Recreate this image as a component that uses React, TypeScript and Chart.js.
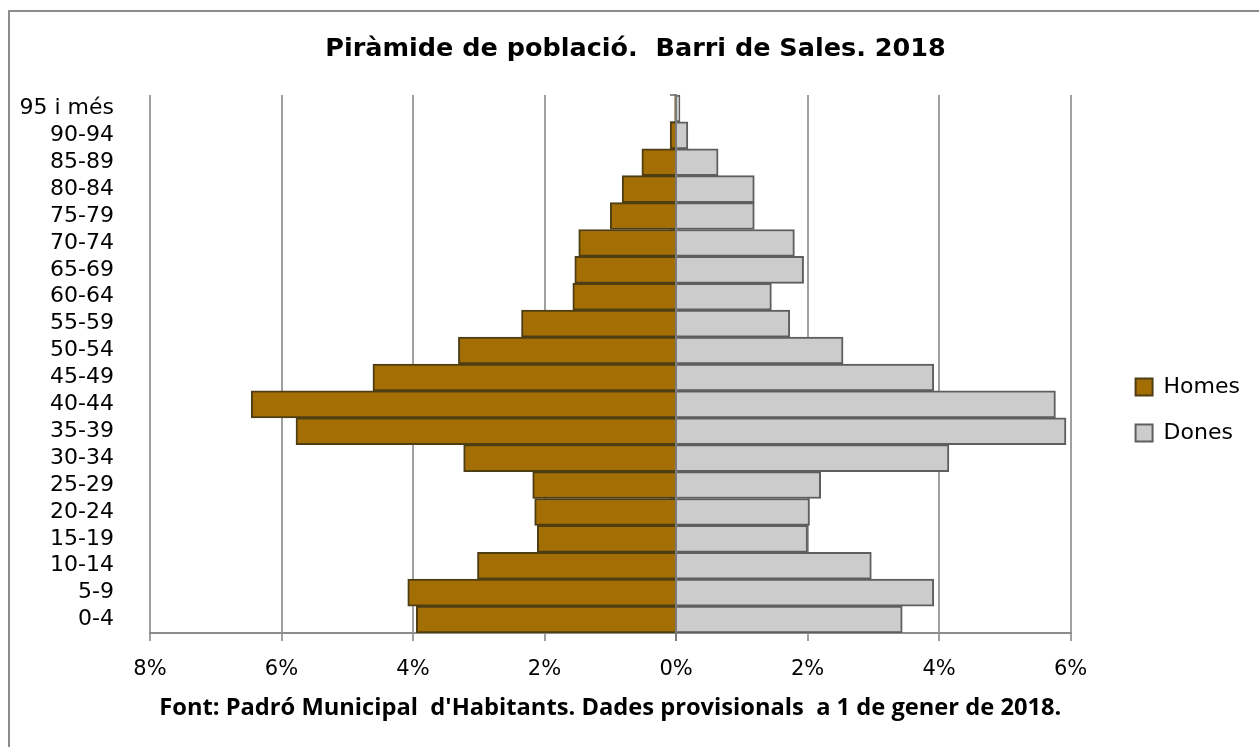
import React, { useEffect, useRef } from 'react';
import { Chart, registerables } from 'chart.js';

Chart.register(...registerables);

const categories = [
  '95 i més', '90-94', '85-89', '80-84', '75-79', '70-74', '65-69', '60-64', '55-59', '50-54',
  '45-49', '40-44', '35-39', '30-34', '25-29', '20-24', '15-19', '10-14', '5-9', '0-4',
];
const homesPct = [
  0.02, 0.09, 0.52, 0.82, 1.0, 1.48, 1.54, 1.57, 2.35, 3.31,
  4.61, 6.46, 5.78, 3.23, 2.18, 2.15, 2.11, 3.02, 4.08, 3.95,
];
const donesPct = [
  0.06, 0.18, 0.64, 1.19, 1.19, 1.8, 1.94, 1.45, 1.73, 2.54,
  3.92, 5.77, 5.93, 4.15, 2.2, 2.03, 2.0, 2.97, 3.92, 3.44,
];
const xMin = -8;
const xMax = 6;
const xStep = 2;
const titleText = 'Piràmide de població.  Barri de Sales. 2018';
const sourceText = "Font: Padró Municipal  d'Habitants. Dades provisionals  a 1 de gener de 2018.";

export default function App() {
  const ref = useRef<HTMLCanvasElement>(null);

  useEffect(() => {
    const canvas = ref.current;
    if (!canvas) return;
    Chart.defaults.font.family = 'DejaVu Sans';
    const chart = new Chart(canvas, {
      type: 'bar',
      data: {
        labels: categories,
        datasets: [
          {
            label: 'Homes',
            data: homesPct.map((v) => -v),
            backgroundColor: '#A36E04',
            borderColor: '#4f3e14',
            borderWidth: 2,
            barPercentage: 1,
            categoryPercentage: 1,
            xAxisID: 'x',
            yAxisID: 'y',
          },
          {
            label: 'Dones',
            data: donesPct,
            backgroundColor: '#CCCCCC',
            borderColor: '#5e5e5e',
            borderWidth: 2,
            barPercentage: 1,
            categoryPercentage: 1,
            xAxisID: 'x',
            yAxisID: 'y',
          },
        ],
      },
      options: {
        responsive: false,
        animation: false,
        indexAxis: 'y',
        layout: { padding: { left: 10, right: 10, top: 0, bottom: 0 } },
        plugins: {
          title: {
            display: true,
            text: titleText,
            color: '#000',
            font: { family: 'DejaVu Sans', size: 25.5, weight: 'bold' },
            padding: { top: 21, bottom: 30.4 },
          },
          legend: {
            position: 'right',
            labels: {
              color: '#000',
              font: { family: 'DejaVu Sans', size: 22 },
              boxWidth: 17,
              boxHeight: 17,
              padding: 24,
            },
          },
          tooltip: { enabled: false },
        },
        scales: {
          x: {
            type: 'linear',
            min: xMin,
            max: xMax,
            stacked: true,
            ticks: {
              stepSize: xStep,
              callback: (v: any) => Math.abs(Number(v)) + '%',
              color: '#000',
              font: { family: 'DejaVu Sans', size: 21 },
              padding: 16,
              maxRotation: 0,
            },
            grid: {
              color: (ctx: any) => (ctx.tick && ctx.tick.value === 0 ? '#7a7a7a' : '#a0a0a0'),
              lineWidth: 2,
              tickLength: 8,
            },
            border: { display: true, color: '#8c8c8c', width: 2 },
            title: {
              display: true,
              text: sourceText,
              color: '#000',
              font: { family: 'Open Sans', size: 23.7, weight: 'bold' },
              padding: { top: 0, bottom: 84.5 },
            },
            afterFit: (s: any) => {
              s.height = 174;
            },
          },
          y: {
            type: 'category',
            position: 'left',
            stacked: true,
            offset: true,
            grid: { display: false },
            border: { display: false },
            ticks: {
              color: '#000',
              font: { family: 'DejaVu Sans', size: 22 },
              padding: 28,
              autoSkip: false,
            },
            afterFit: (s: any) => {
              s.width = 129;
            },
          },
          y2: {
            type: 'category',
            position: { x: 0 },
            offset: true,
            grid: { offset: true, drawOnChartArea: false, tickLength: 5, color: '#8a8a8a', lineWidth: 2 },
            border: { display: true, color: '#7a7a7a', width: 2 },
            ticks: { display: false },
          },
          yr: {
            type: 'category',
            position: 'right',
            grid: { display: false },
            border: { display: false },
            ticks: { display: false },
            afterFit: (s: any) => {
              s.width = 41;
            },
          },
        },
      } as any,
    });
    return () => chart.destroy();
  }, []);

  return (
    <div
      style={{
        position: 'fixed',
        left: 8,
        top: 10,
        width: 1400,
        height: 900,
        border: '2px solid #8c8c8c',
        boxSizing: 'border-box',
        background: '#fff',
      }}
    >
      <canvas
        ref={ref}
        width={1249}
        height={794}
        style={{ position: 'absolute', left: 1, top: 1, width: 1249, height: 794 }}
      />
    </div>
  );
}
